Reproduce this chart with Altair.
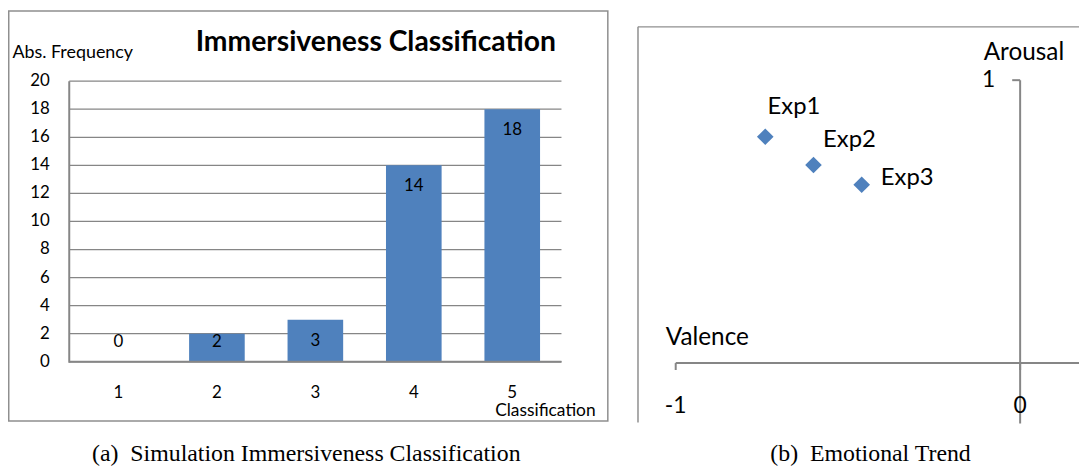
import altair as alt
import pandas as pd

# ---------------- data ----------------
# (a) Simulation Immersiveness Classification
categories = ["1", "2", "3", "4", "5"]
frequencies = [0, 2, 3, 14, 18]
y_ticks = [0, 2, 4, 6, 8, 10, 12, 14, 16, 18, 20]

# (b) Emotional Trend
experiments = ["Exp1", "Exp2", "Exp3"]
valence = [-0.74, -0.60, -0.46]
arousal = [0.80, 0.70, 0.63]
valence_ticks = [-1, 0]
valence_tick_labels = ["-1", "0"]
arousal_ticks = [1]
arousal_tick_labels = ["1"]

# ---------------- style ----------------
W, H = 1079, 458
BLUE = "#4F81BD"
GRAY = "#868686"
BORDER = "#8f8f8f"
SANS = "Lato"
SERIF = "Liberation Serif"

bars_df = pd.DataFrame({"cls": categories, "freq": frequencies})
grid_df = pd.DataFrame({"tick": y_ticks})
pts_df = pd.DataFrame({"exp": experiments, "valence": valence, "arousal": arousal})
vt_df = pd.DataFrame({"v": valence_ticks, "lab": valence_tick_labels})
at_df = pd.DataFrame({"a": arousal_ticks, "lab": arousal_tick_labels})
one = pd.DataFrame({"k": [0]})


def deco_text(text, x, y, size, align="left", weight="normal", font=SANS, baseline="middle"):
    return alt.Chart(one).mark_text(
        text=text, font=font, fontSize=size, fontWeight=weight, align=align,
        baseline=baseline, color="black"
    ).encode(x=alt.value(x), y=alt.value(y))


def hline(x1, x2, y, color=GRAY, width=2):
    return alt.Chart(one).mark_rule(color=color, strokeWidth=width).encode(
        x=alt.value(x1), x2=alt.value(x2), y=alt.value(y))


def vline(x, y1, y2, color=GRAY, width=2):
    return alt.Chart(one).mark_rule(color=color, strokeWidth=width).encode(
        x=alt.value(x), y=alt.value(y1), y2=alt.value(y2))


# ---------------- left panel ----------------
X0, X1 = 61.7, 557.6      # plot left/right
YT, YB = 72, 354.7        # plot top/bottom
xb = alt.Scale(domain=categories, range=[X0, X1], paddingInner=0.435, paddingOuter=0.2175)
yb = alt.Scale(domain=[0, 20], range=[YB, YT], nice=False, zero=False)

left_border = alt.Chart(one).mark_rect(fill="transparent", stroke=BORDER, strokeWidth=1.5).encode(
    x=alt.value(0.75), x2=alt.value(604.3), y=alt.value(1.3), y2=alt.value(414.3)
)

grid = alt.Chart(grid_df).mark_rule(color=GRAY, strokeWidth=1.3).encode(
    y=alt.Y("tick:Q", scale=yb, axis=None),
    x=alt.value(X0), x2=alt.value(X1),
)

bars = alt.Chart(bars_df).mark_bar(color=BLUE).encode(
    x=alt.X("cls:N", scale=xb, sort=categories, axis=None),
    y=alt.Y("freq:Q", scale=yb, axis=None),
)

bar_labels = alt.Chart(bars_df).transform_calculate(
    pos="max(datum.freq - 1.5, 1.4)"
).mark_text(font=SANS, fontSize=17, color="black", baseline="middle").encode(
    x=alt.X("cls:N", scale=xb, sort=categories, axis=None),
    y=alt.Y("pos:Q", scale=yb, axis=None),
    text="freq:Q",
)

y_labels = alt.Chart(grid_df).mark_text(
    font=SANS, fontSize=17, color="black", align="right", baseline="middle"
).encode(
    y=alt.Y("tick:Q", scale=yb, axis=None),
    x=alt.value(X0 - 19.7),
    text="tick:Q",
)

x_labels = alt.Chart(bars_df).mark_text(
    font=SANS, fontSize=17, color="black", align="center", baseline="middle"
).encode(
    x=alt.X("cls:N", scale=xb, sort=categories, axis=None),
    y=alt.value(YB + 31.5),
    text="cls:N",
)

left = alt.layer(
    left_border, grid, bars,
    vline(X0, YT, YB + 1), hline(X0, X1, YB),
    bar_labels, y_labels, x_labels,
    deco_text("Abs. Frequency", 4.5, 44, 18),
    deco_text("Classification", 592, 404.5, 17.5, align="right"),
    deco_text("Immersiveness Classification", 370.5, 33, 28.5, align="center", weight="bold"),
    deco_text("(a)\u00a0\u00a0Simulation Immersiveness Classification", 300.5, 454.5, 24,
              align="center", font=SERIF, baseline="alphabetic"),
)

# ---------------- right panel ----------------
XA0, XA1 = 672.7, 1366.7   # valence -1 .. 1
YA0, YA1 = 417, 71         # arousal -0.215 (crop edge) .. 1
xs = alt.Scale(domain=[-1, 1], range=[XA0, XA1], nice=False, zero=False)
ys = alt.Scale(domain=[-0.215, 1], range=[YA0, YA1], nice=False, zero=False)
ZERO_Y = 356      # arousal = 0
ZERO_X = 1019.7   # valence = 0

points = alt.Chart(pts_df).mark_point(
    shape="diamond", filled=True, size=280, color=BLUE, opacity=1
).encode(
    x=alt.X("valence:Q", scale=xs, axis=None),
    y=alt.Y("arousal:Q", scale=ys, axis=None),
)

v_ticks = alt.Chart(vt_df).mark_rule(color=GRAY, strokeWidth=2).encode(
    x=alt.X("v:Q", scale=xs, axis=None),
    y=alt.value(ZERO_Y), y2=alt.value(ZERO_Y + 7),
)
v_labels = alt.Chart(vt_df).mark_text(
    font=SANS, fontSize=23, color="black", align="center", baseline="middle"
).encode(
    x=alt.X("v:Q", scale=xs, axis=None),
    y=alt.value(ZERO_Y + 43),
    text="lab:N",
)
a_ticks = alt.Chart(at_df).mark_rule(color=GRAY, strokeWidth=2).encode(
    y=alt.Y("a:Q", scale=ys, axis=None),
    x=alt.value(ZERO_X - 8), x2=alt.value(ZERO_X),
)
a_labels = alt.Chart(at_df).mark_text(
    font=SANS, fontSize=23, color="black", align="right", baseline="middle"
).encode(
    y=alt.Y("a:Q", scale=ys, axis=None),
    x=alt.value(ZERO_X - 25),
    text="lab:N",
)


def point_label(name, dx, dy):
    return alt.Chart(pts_df).transform_filter(alt.datum.exp == name).mark_text(
        align="left", baseline="middle", dx=dx, dy=dy, font=SANS, fontSize=24, color="black"
    ).encode(
        x=alt.X("valence:Q", scale=xs, axis=None),
        y=alt.Y("arousal:Q", scale=ys, axis=None),
        text="exp:N",
    )


right = alt.layer(
    hline(634.7, 1100, 17.3, color=BORDER, width=1.5),
    vline(634.7, 17.3, 416, color=BORDER, width=1.5),
    hline(XA0, 1100, ZERO_Y),
    vline(ZERO_X, YA1, YA0),
    v_ticks, a_ticks,
    points,
    point_label("Exp1", 2.3, -29.7),
    point_label("Exp2", 9.7, -25.3),
    point_label("Exp3", 19.3, -7),
    v_labels, a_labels,
    deco_text("Arousal", 983, 43.7, 24.5),
    deco_text("Valence", 662.7, 331, 24.5),
    deco_text("(b)\u00a0\u00a0Emotional Trend", 869, 454.5, 24,
              align="center", font=SERIF, baseline="alphabetic"),
)

chart = alt.layer(left, right).resolve_scale(
    x="independent", y="independent"
).properties(
    width=W, height=H, padding=0, autosize=alt.AutoSizeParams(type="none")
).configure_view(stroke=None)

chart.save("out.html", embed_options={"renderer": "svg", "actions": False})
